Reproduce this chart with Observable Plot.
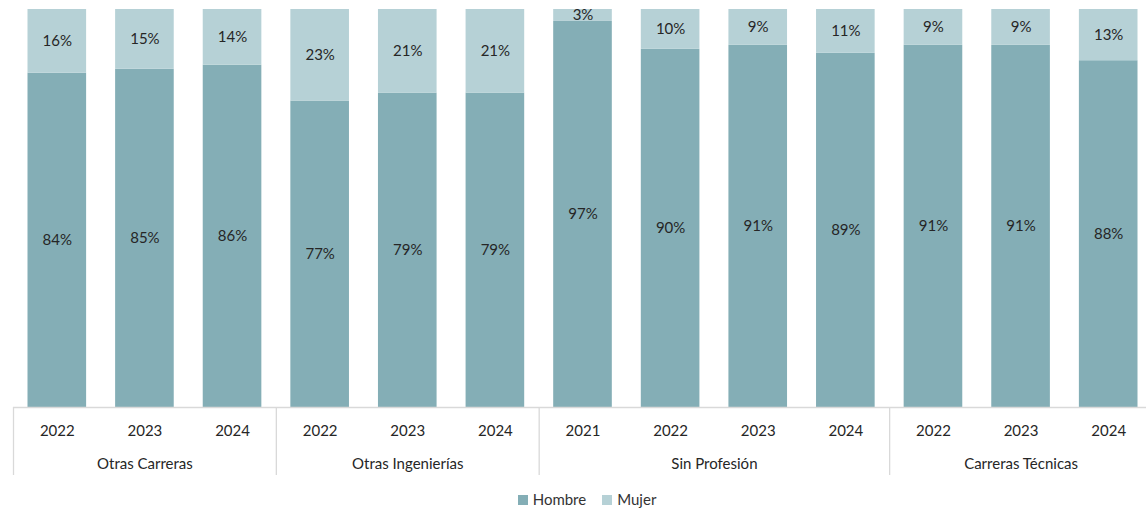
<!DOCTYPE html>
<html>
<head>
<meta charset="utf-8">
<script src="https://cdn.jsdelivr.net/npm/d3@7"></script>
<script src="https://cdn.jsdelivr.net/npm/@observablehq/plot@0.6"></script>
<style>
  html, body { margin: 0; padding: 0; background: #fff; overflow: hidden; width: 1146px; height: 508px; }
  #chart svg { overflow: hidden; }
  #legend { position: absolute; top: 490px; left: 0; width: 1146px; padding-left: 28px; box-sizing: border-box;
    text-align: center; font-family: Lato, sans-serif; font-size: 15px; color: #333; }
  #legend span.sw { display: inline-block; width: 10px; height: 10px; margin-right: 5px; }
  #legend span.item { margin: 0 8px; }
</style>
</head>
<body>
<div id="chart"></div>
<div id="legend"></div>
<script>
const groups = ["Otras Carreras", "Otras Ingenierías", "Sin Profesión", "Carreras Técnicas"];
const groupYears = [
  ["2022", "2023", "2024"],
  ["2022", "2023", "2024"],
  ["2021", "2022", "2023", "2024"],
  ["2022", "2023", "2024"]
];
const hombre = [84, 85, 86, 77, 79, 79, 97, 90, 91, 89, 91, 91, 88];
const mujer  = [16, 15, 14, 23, 21, 21, 3, 10, 9, 11, 9, 9, 13];
const seriesNames = ["Hombre", "Mujer"];
const seriesColors = ["#84AEB6", "#B6D1D6"];

// Build table
const bars = [];
let idx = 0;
const groupInfo = [];
groups.forEach((g, gi) => {
  const start = idx;
  groupYears[gi].forEach(y => { bars.push({i: idx, group: g, year: y, h: hombre[idx], m: mujer[idx]}); idx++; });
  groupInfo.push({group: g, start, end: idx, mid: (start + idx) / 2});
});
// 100% stacked: shares normalized to the bar total
const segs = [];
bars.forEach(b => {
  const t = b.h + b.m;
  const hs = b.h / t * 100;
  segs.push({i: b.i, serie: seriesNames[0], y1: 0, y2: hs, v: b.h});
  segs.push({i: b.i, serie: seriesNames[1], y1: hs, y2: 100, v: b.m});
});
const boundaries = groupInfo.map(g => g.start).concat([idx]);

const font = "Lato, sans-serif";
const plot = Plot.plot({
  width: 1146,
  height: 486,
  marginTop: 9,
  marginBottom: 79,
  marginLeft: 13,
  marginRight: 0,
  style: {fontFamily: font, fontSize: "15px", color: "#404040", background: "#fff"},
  x: {domain: [0, bars.length], range: [13, 1152], axis: null},
  y: {domain: [0, 100], axis: null},
  color: {domain: seriesNames, range: seriesColors},
  marks: [
    Plot.rectY(segs, {x1: "i", x2: d => d.i + 1, y1: "y1", y2: "y2", fill: "serie", insetLeft: 14.5, insetRight: 14.5}),
    Plot.ruleY([0], {stroke: "#d9d9d9", strokeWidth: 1.3}),
    Plot.ruleX(boundaries, {x: d => d, y1: 0, y2: 0, insetBottom: -68, stroke: "#d9d9d9", strokeWidth: 1.3}),
    Plot.text(segs, {x: d => d.i + 0.5, y: d => (d.y1 + d.y2) / 2, text: d => d.v + "%", fill: "#262626", fontSize: 15}),
    Plot.text(bars, {x: d => d.i + 0.5, frameAnchor: "bottom", dy: 28, text: "year", fill: "#262626", fontSize: 15}),
    Plot.text(groupInfo, {x: "mid", frameAnchor: "bottom", dy: 61, text: "group", fill: "#262626", fontSize: 15})
  ]
});
document.getElementById("chart").appendChild(plot);

const legend = document.getElementById("legend");
legend.innerHTML = seriesNames.map((s, k) =>
  `<span class="item"><span class="sw" style="background:${seriesColors[k]}"></span>${s}</span>`).join("");
</script>
</body>
</html>
